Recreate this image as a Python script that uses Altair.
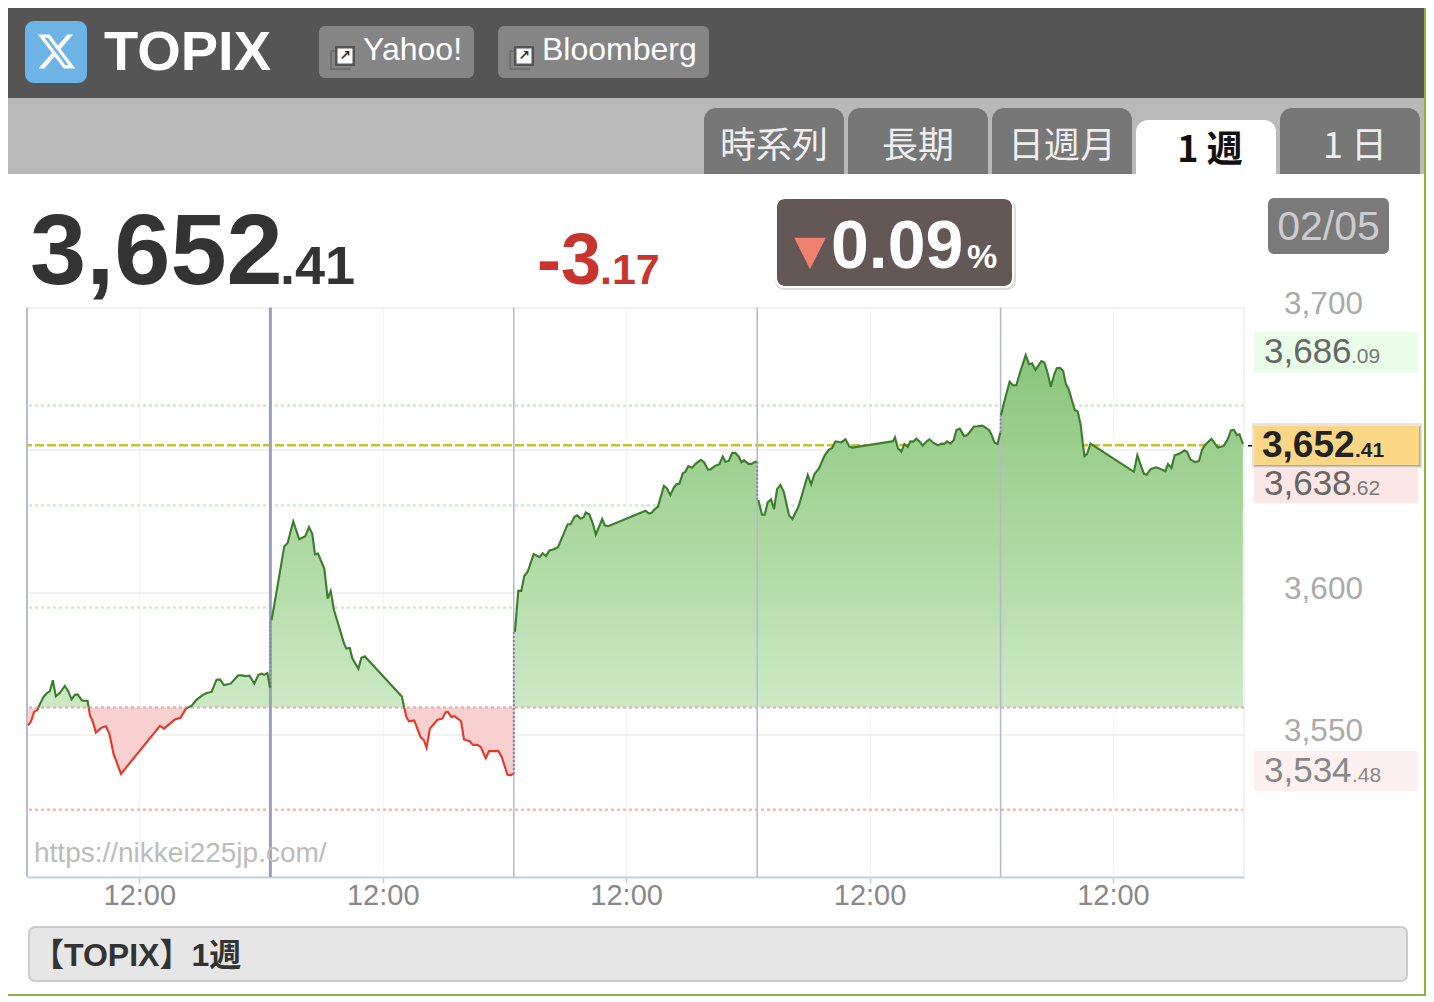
import altair as alt
import pandas as pd

# ---- values ----
DAY1_H = [.03,.11,.19,.28,.35,.45,.54,.61,.69,.77,.88,1.01,1.11,1.19,1.28,1.35,1.47,1.62,1.68,1.75,1.84,1.99,2.11,2.20,2.31,2.51,3.55,3.66,3.95,4.10,4.24,4.40,4.53,4.69,4.80,4.93,5.06,5.15,5.26,5.44,5.64,5.76,5.82,5.94,6.07,6.18,6.27,6.33,6.42,6.49]
DAY1_V = [3553.2,3554.8,3558.0,3558.7,3560.9,3563.4,3564.7,3565.3,3569.1,3563.5,3564.7,3567.1,3565.0,3562.4,3564.0,3564.1,3562.0,3561.8,3556.8,3554.8,3550.7,3552.4,3552.9,3550.3,3543.3,3536.2,3553.1,3552.1,3555.3,3555.9,3559.1,3560.2,3562.3,3563.9,3564.6,3565.0,3569.3,3569.4,3567.4,3567.9,3570.8,3570.8,3570.5,3570.7,3567.9,3571.0,3571.4,3571.0,3571.6,3566.5]
DAY2_H = [.03,.14,.37,.46,.61,.77,.93,1.03,1.12,1.19,1.27,1.44,1.53,1.61,1.70,1.97,2.03,2.12,2.19,2.35,2.43,2.52,3.51,3.57,3.63,3.70,3.84,4.01,4.10,4.17,4.26,4.46,4.59,4.68,4.74,4.83,4.92,5.09,5.17,5.32,5.41,5.53,5.62,5.75,5.84,6.09,6.18,6.33,6.42,6.49]
DAY2_V = [3590.1,3598.3,3616.1,3617.3,3624.9,3618.6,3619.7,3622.9,3620.4,3613.3,3613.6,3608.3,3597.8,3600.4,3593.7,3581.9,3580.2,3580.4,3576.7,3573.1,3577.0,3577.5,3563.4,3559.7,3556.2,3554.7,3555.0,3549.1,3548.0,3545.4,3552.1,3555.2,3555.6,3557.9,3558.0,3556.2,3556.5,3554.7,3548.3,3547.7,3546.4,3546.4,3545.6,3541.7,3544.2,3544.2,3542.1,3535.9,3535.8,3536.2]
DAY3_H = [.03,.12,.20,.28,.37,.53,.69,.77,.86,.95,1.07,1.18,1.44,1.52,1.62,1.69,1.79,1.87,1.92,2.02,2.11,2.19,2.36,2.43,2.52,3.52,3.61,3.69,3.76,3.85,4.01,4.09,4.18,4.27,4.34,4.42,4.51,4.58,4.66,4.76,4.85,5.00,5.09,5.18,5.25,5.37,5.49,5.58,5.65,5.74,5.83,5.92,6.01,6.08,6.15,6.26,6.35,6.44,6.49]
DAY3_V = [3586.1,3600.5,3600.5,3605.7,3607.2,3613.4,3612.3,3613.7,3612.7,3614.7,3615.1,3615.8,3623.9,3623.9,3626.5,3627.0,3625.8,3626.4,3628.0,3627.3,3624.2,3620.2,3625.7,3623.5,3623.2,3628.6,3627.6,3628.0,3629.1,3630.1,3637.4,3636.5,3634.1,3636.7,3637.9,3638.1,3641.7,3642.3,3644.3,3643.7,3645.1,3646.5,3645.5,3643.1,3643.1,3644.4,3645.0,3647.7,3645.8,3646.1,3648.9,3648.9,3647.6,3645.6,3646.4,3645.1,3645.1,3645.8,3645.8]
DAY4_H = [.03,.13,.20,.28,.37,.45,.53,.62,.71,.85,.94,1.11,1.35,1.44,1.53,1.65,1.80,1.91,2.00,2.09,2.24,2.36,2.46,2.54,3.56,3.63,3.68,3.76,3.85,3.93,4.02,4.09,4.17,4.25,4.33,4.42,4.54,4.60,4.70,4.83,4.92,5.00,5.07,5.16,5.25,5.32,5.41,5.52,5.61,5.79,5.89,6.01,6.19,6.25,6.34,6.42,6.49]
DAY4_V = [3632.4,3627.2,3627.2,3631.6,3632.6,3629.2,3636.2,3637.7,3635.3,3627.1,3625.7,3630.3,3641.2,3637.9,3641.5,3643.5,3648.0,3650.0,3650.7,3653.0,3652.6,3653.7,3651.2,3650.8,3652.9,3653.1,3654.4,3650.5,3649.4,3652.1,3651.1,3653.0,3652.9,3653.9,3653.0,3651.5,3653.2,3653.7,3652.5,3651.6,3652.2,3652.1,3653.0,3652.2,3653.5,3657.0,3657.5,3654.9,3655.2,3658.2,3658.3,3658.5,3657.0,3655.6,3652.5,3652.1,3656.0]
DAY5_H = [.01,.11,.24,.33,.42,.51,.67,.76,.84,.93,1.09,1.17,1.26,1.34,1.44,1.50,1.59,1.67,1.74,1.82,1.98,2.06,2.14,2.20,2.24,2.31,2.40,3.56,3.65,3.76,3.83,3.90,4.01,4.14,4.26,4.40,4.47,4.56,4.65,4.78,4.91,4.98,5.07,5.20,5.30,5.38,5.46,5.63,5.80,5.96,6.07,6.15,6.23,6.31,6.38,6.47]
DAY5_V = [3662.2,3667.5,3673.9,3672.7,3672.7,3676.8,3683.3,3680.1,3680.4,3678.1,3681.2,3680.7,3676.8,3672.2,3676.8,3678.7,3678.8,3677.7,3673.3,3671.2,3664.0,3663.5,3658.7,3651.7,3647.8,3648.6,3652.2,3642.3,3648.1,3644.0,3641.6,3641.3,3643.2,3643.9,3643.4,3642.5,3645.0,3643.6,3648.1,3648.7,3649.8,3649.3,3646.6,3645.7,3646.1,3650.1,3651.7,3653.9,3650.8,3651.4,3653.8,3656.8,3657.0,3655.2,3655.5,3652.1]
DAYS = [(DAY1_H, DAY1_V), (DAY2_H, DAY2_V), (DAY3_H, DAY3_V), (DAY4_H, DAY4_V), (DAY5_H, DAY5_V)]

SESSION_HOURS = 6.5
BASE = 3559.5
UP_GUIDES = [3665.6, 3630.5, 3594.6]
DOWN_GUIDES = [3523.6]
LAST_GUIDE = [3651.6]
Y_TICKS = [3700, 3650, 3600, 3550]
NOON_TICKS = [3, 9.5, 16, 22.5, 29]
DAY_BREAKS = [6.5, 13, 19.5, 26]

# ---- derive plotted tables ----
line_rows, area_rows, gaps = [], [], []
seg = 0
prev = None
for d, (hs, vs) in enumerate(DAYS):
    if d:
        gaps.append({"x": d * SESSION_HOURS, "a": prev[1], "b": vs[0]})
    seg += 1
    last = None
    for h, v in zip(hs, vs):
        x = d * SESSION_HOURS + h
        if prev is not None and (prev[1] - BASE) * (v - BASE) < 0:
            t = (BASE - prev[1]) / (v - prev[1])
            cx = prev[0] + t * (x - prev[0])
            area_rows.append({"x": cx, "up": BASE, "dn": BASE, "base": BASE})
            if last is not None:
                line_rows.append({"x": cx, "v": BASE, "seg": seg, "side": "up" if last >= BASE else "dn"})
                seg += 1
                line_rows.append({"x": cx, "v": BASE, "seg": seg, "side": "up" if v >= BASE else "dn"})
        area_rows.append({"x": x, "up": max(v, BASE), "dn": min(v, BASE), "base": BASE})
        line_rows.append({"x": x, "v": v, "seg": seg, "side": "up" if v >= BASE else "dn"})
        last = v
        prev = (x, v)

lines = pd.DataFrame(line_rows)
areas = pd.DataFrame(area_rows)
gaps = pd.DataFrame(gaps)

X = alt.X("x:Q", title=None, scale=alt.Scale(domain=[0, 32.5], nice=False, zero=False),
          axis=alt.Axis(values=NOON_TICKS, labelExpr="'12:00'", labelFontSize=29, labelColor="#888888",
                        labelFont="Liberation Sans", labelPadding=-2, tickColor="#c3cfe0", tickSize=6, tickWidth=1.5,
                        domainColor="#c3cfe0", domainWidth=2, grid=True, gridColor="#f5f5f5", gridWidth=1,
                        labelOverlap=False))
Y_SCALE = alt.Scale(domain=[3500, 3700], nice=False, zero=False)
Y_AXIS = alt.Axis(orient="right", values=Y_TICKS,
                  labelExpr="datum.value == 3650 ? '' : format(datum.value, ',d')",
                  labelFontSize=31.5, labelColor="#aaaaaa",
                  labelFont="Liberation Sans", labelAlign="center", labelPadding=79, labelOffset=-3,
                  ticks=False, domain=False, grid=True, gridColor="#e3e3e3", gridWidth=1)

def yf(field):
    return alt.Y(field, title=None, scale=Y_SCALE, axis=Y_AXIS)

def hrule(vals, color, dash, width=2.4):
    return alt.Chart(pd.DataFrame({"y": vals})).mark_rule(color=color, strokeDash=dash, strokeWidth=width).encode(y=yf("y:Q"))

def vrule(vals, color, width):
    return alt.Chart(pd.DataFrame({"x": vals})).mark_rule(color=color, strokeWidth=width).encode(x=X)

# ---- data layers ----
green_area = alt.Chart(areas).mark_area(
    color=alt.Gradient(gradient="linear", x1=1, x2=1, y1=0, y2=1,
                       stops=[alt.GradientStop(color="#8bc57c", offset=0),
                              alt.GradientStop(color="#cce9c4", offset=1)])
).encode(x=X, y=yf("up:Q"), y2=alt.Y2("base:Q"))
red_area = alt.Chart(areas).mark_area(color="#f7d0cf").encode(x=X, y=yf("dn:Q"), y2=alt.Y2("base:Q"))

def day_line(side, color):
    return alt.Chart(lines[lines.side == side]).mark_line(color=color, strokeWidth=2.1).encode(
        x=X, y=yf("v:Q"), detail="seg:N")

connectors = alt.Chart(gaps).mark_rule(color="#85859a", strokeWidth=2, strokeDash=[2, 2]).encode(
    x=X, y=yf("a:Q"), y2=alt.Y2("b:Q"))

# ---- chrome helpers (page pixels -> plot-relative pixels) ----
PL, PT = 27, 307.5
ONE = pd.DataFrame({"k": [0]})

def rect(x0, y0, x1, y1, fill, **kw):
    return alt.Chart(ONE).mark_rect(fill=fill, **kw).encode(
        x=alt.value(x0 - PL), x2=alt.value(x1 - PL), y=alt.value(y0 - PT), y2=alt.value(y1 - PT))

def text(x, y, s, size, color, align="left", bold=False, font="Liberation Sans", baseline="alphabetic"):
    return alt.Chart(ONE).mark_text(text=s, fontSize=size, color=color, align=align, baseline=baseline,
                                    font=font, fontWeight="bold" if bold else "normal").encode(
        x=alt.value(x - PL), y=alt.value(y - PT))

def shape(x, y, path, size, fill, **kw):
    return alt.Chart(ONE).mark_point(shape=path, size=size, filled=True, fill=fill, opacity=1, **kw).encode(
        x=alt.value(x - PL), y=alt.value(y - PT))

X_LOGO = ("M.595 -.929H.910L.221 -.142L1.031 .929H.397L-.099 .279L-.668 .929H-.983L-.247 .087"
          "L-1.023 -.929H-.373L.076 -.335Z M.484 .740H.659L-.468 -.750H-.655Z")
TRI = "M-1 -1H1L0 1Z"
JP = "Noto Sans CJK JP"

def link_icon(x):
    return [rect(x, 50, x + 21, 70, "#6f6f6f"),
            rect(x + 2, 52, x + 21, 68, "#858585"),
            rect(x + 5, 46, x + 25, 66, "#555555"),
            rect(x + 7.5, 48.5, x + 22.5, 63.5, "#ffffff"),
            text(x + 15, 56, "↗", 14, "#333333", align="center", bold=True, font="DejaVu Sans", baseline="middle")]

TABS = [(704, 844, "時系列"), (848, 988, "長期"), (992, 1132, "日週月"), (1280, 1420, "1 日")]

chrome = [
    rect(8, 8, 1424, 98, "#555555"),
    rect(8, 98, 1424, 174, "#b9b9b9"),
    rect(1424, 8, 1426, 996, "#8cb33e"),
    rect(8, 994, 1426, 996, "#8cb33e"),
    rect(25, 21, 87, 83, "#6db3e6", cornerRadius=9),
    shape(56.5, 51.5, X_LOGO, 1330, "#ffffff"),
    text(104, 70, "TOPIX", 56, "#ffffff", bold=True),
    rect(319, 26, 474, 78, "#858585", cornerRadius=6),
    rect(498, 26, 709, 78, "#858585", cornerRadius=6),
    *link_icon(330),
    *link_icon(509),
    text(363, 60, "Yahoo!", 32, "#ffffff"),
    text(542, 60, "Bloomberg", 32, "#ffffff"),
]
for a, b, s in TABS:
    chrome.append(rect(a, 108, b, 174, "#777777", cornerRadiusTopLeft=12, cornerRadiusTopRight=12))
    chrome.append(text((a + b) / 2 + (0 if s != "1 日" else 5), 147, s, 36, "#eeeeee", align="center", font=JP, baseline="middle"))
chrome += [
    rect(1136, 120, 1276, 174, "#ffffff", cornerRadiusTopLeft=12, cornerRadiusTopRight=12),
    text(1210, 151, "1 週", 36, "#111111", align="center", bold=True, font=JP, baseline="middle"),
    text(30, 284, "3,652", 101, "#333333", bold=True),
    text(280, 284, ".41", 54, "#333333", bold=True),
    text(537, 284, "-3", 72, "#c9342c", bold=True),
    text(600, 284, ".17", 43, "#c9342c", bold=True),
    rect(775, 199, 1016, 290, "#dddddd", cornerRadius=9),
    rect(775, 197, 1014, 288, "#ffffff", cornerRadius=9),
    rect(777, 199, 1012, 286, "#635856", cornerRadius=8),
    shape(810, 253.5, TRI, 1000, "#f08070"),
    text(831, 268, "0.09", 68, "#ffffff", bold=True),
    text(967, 268, "%", 34, "#ffffff", bold=True),
    rect(1268, 198, 1389, 254, "#7a7a7a", cornerRadius=6),
    text(1328.5, 240, "02/05", 41, "#cccccc", align="center"),
    rect(1254, 332, 1418, 373, "#e9fde8"),
    text(1264, 363, "3,686", 35, "#666666"),
    text(1351, 363, ".09", 21, "#777777"),
    rect(1254, 462, 1418, 503, "#fbe6e5"),
    text(1264, 495, "3,638", 35, "#666666"),
    text(1351, 495, ".62", 21, "#777777"),
    rect(1254, 751, 1418, 791, "#fdf0f0"),
    text(1264, 782, "3,534", 35, "#888888"),
    text(1352, 782, ".48", 21, "#888888"),
    rect(1248, 445, 1258, 446.5, "#000000"),
    rect(1252, 423, 1422, 468, "#e4e4e4"),
    rect(1254, 426, 1420.5, 466.5, "#aaaaaa"),
    rect(1254, 426, 1419, 465, "#fbd785"),
    text(1262, 457, "3,652", 37, "#222222", bold=True),
    text(1355, 457, ".41", 21, "#222222", bold=True),
    rect(29, 927, 1407, 981, "#e6e6e6", cornerRadius=6, stroke="#cccccc", strokeWidth=2),
    text(32, 966, "【TOPIX】1週", 32, "#333333", bold=True, font="Liberation Sans, Noto Sans CJK JP"),
]

layers = [
    hrule(UP_GUIDES, "#c6efba", [3, 3]),
    hrule(DOWN_GUIDES, "#ffb5af", [3, 3]),
    hrule(LAST_GUIDE, "#c4c033", [9, 3]),
    vrule([32.5], "#eeeeee", 1.5),
    green_area,
    red_area,
    hrule([BASE], "#e0b4b8", [3, 3]),
    vrule([0], "#b9bcd0", 2),
    vrule(DAY_BREAKS[1:], "#b5b8cc", 1.5),
    vrule(DAY_BREAKS[:1], "#9aa0bb", 3),
    connectors,
    day_line("up", "#3a7d2a"),
    day_line("dn", "#e8352a"),
    text(34, 862, "https://nikkei225jp.com/", 28, "#bbbbbb"),
    *chrome,
]

chart = alt.layer(*layers).properties(
    width=1217, height=569.5,
    autosize=alt.AutoSizeParams(type="none"),
    padding={"left": 19, "top": 299.5, "right": 182, "bottom": 119},
    background="#ffffff",
).configure_view(stroke=None)

chart.save("out.html", embed_options={"renderer": "svg", "actions": False})
